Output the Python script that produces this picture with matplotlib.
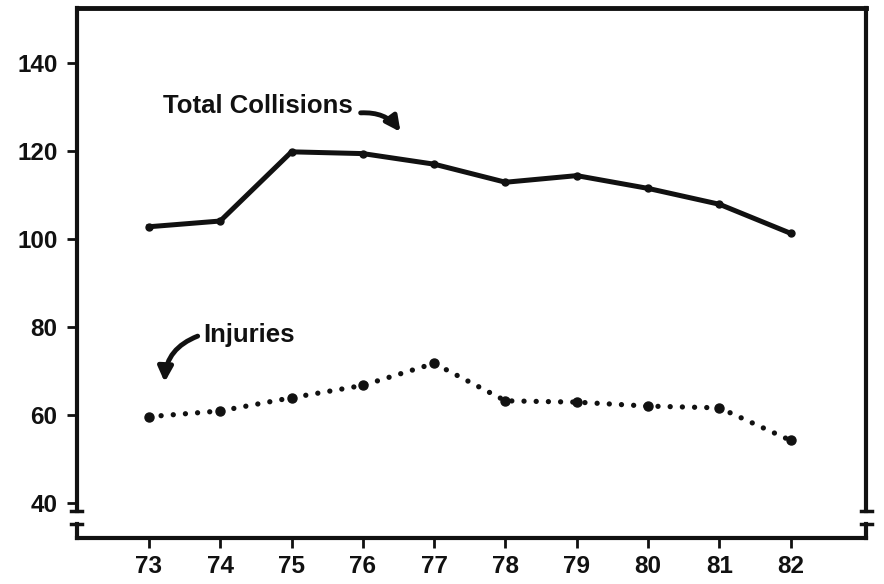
import matplotlib.pyplot as plt

# -------------------------
# Data
# -------------------------
years = [73, 74, 75, 76, 77, 78, 79, 80, 81, 82]
total_collisions = [102.8, 104.1, 119.8, 119.4, 117.0, 112.9, 114.4, 111.5, 107.9, 101.3]
injuries = [59.7, 61.0, 64.0, 66.8, 71.8, 63.3, 63.0, 62.1, 61.7, 54.3]
y_ticks = [40, 60, 80, 100, 120, 140]

ink = "#111111"
plt.rcParams["font.family"] = ["Liberation Sans", "DejaVu Sans"]

fig = plt.figure(figsize=(8.84, 5.84), dpi=100)
ax = fig.add_axes([0.087, 0.079, 0.893, 0.907])

# Total collisions - solid line with small dots
ax.plot(years, total_collisions, color=ink, lw=3.6, solid_joinstyle="round",
        marker="o", ms=5, zorder=3)

# Injuries - dotted line with larger dots at the data points
ax.plot(years, injuries, color=ink, lw=3.8, linestyle=(0, (0.01, 2.3)),
        dash_capstyle="round", zorder=3)
ax.plot(years, injuries, color=ink, lw=0, marker="o", ms=6.5, zorder=3)

ax.set_xlim(71.99, 83.06)
ax.set_ylim(32.2, 152.4)
ax.set_xticks(years)
ax.set_yticks(y_ticks)
ax.tick_params(axis="y", length=7, width=2, pad=7, labelsize=17.5, color=ink)
ax.tick_params(axis="x", length=7, width=2, pad=5, labelsize=17.5, color=ink)
for lab in ax.get_xticklabels() + ax.get_yticklabels():
    lab.set_fontweight("bold")
    lab.set_color(ink)

# frame: top and bottom as spines, sides drawn with the axis break
for side in ["left", "right"]:
    ax.spines[side].set_visible(False)
ax.spines["top"].set_linewidth(3.5)
ax.spines["bottom"].set_linewidth(3.0)
ax.spines["top"].set_color(ink)
ax.spines["bottom"].set_color(ink)

tr = ax.get_yaxis_transform()
brk_hi, brk_lo = 38.2, 35.3
for xs in [0.0, 1.0]:
    ax.plot([xs, xs], [brk_hi, 152.4], color=ink, lw=3, transform=tr, clip_on=False)
    ax.plot([xs, xs], [32.2, brk_lo], color=ink, lw=3, transform=tr, clip_on=False)
    for yb in [brk_hi, brk_lo]:
        ax.plot([xs - 0.007, xs + 0.007], [yb, yb], color=ink, lw=2.5,
                transform=tr, clip_on=False)

# labels with curved arrows
ax.text(73.2, 130.2, "Total Collisions", fontsize=18.5, fontweight="bold",
        color=ink, va="center", ha="left")
ax.annotate("", xy=(76.55, 123.8), xytext=(75.93, 128.6),
            arrowprops=dict(arrowstyle="-|>", lw=3.5, color=ink, mutation_scale=22,
                            connectionstyle="arc3,rad=-0.3"))

ax.text(73.76, 78.2, "Injuries", fontsize=18.5, fontweight="bold",
        color=ink, va="center", ha="left")
ax.annotate("", xy=(73.22, 66.9), xytext=(73.72, 78.2),
            arrowprops=dict(arrowstyle="-|>", lw=3.5, color=ink, mutation_scale=22,
                            connectionstyle="arc3,rad=0.35"))

fig.savefig("out.png", dpi=100, facecolor="white")
